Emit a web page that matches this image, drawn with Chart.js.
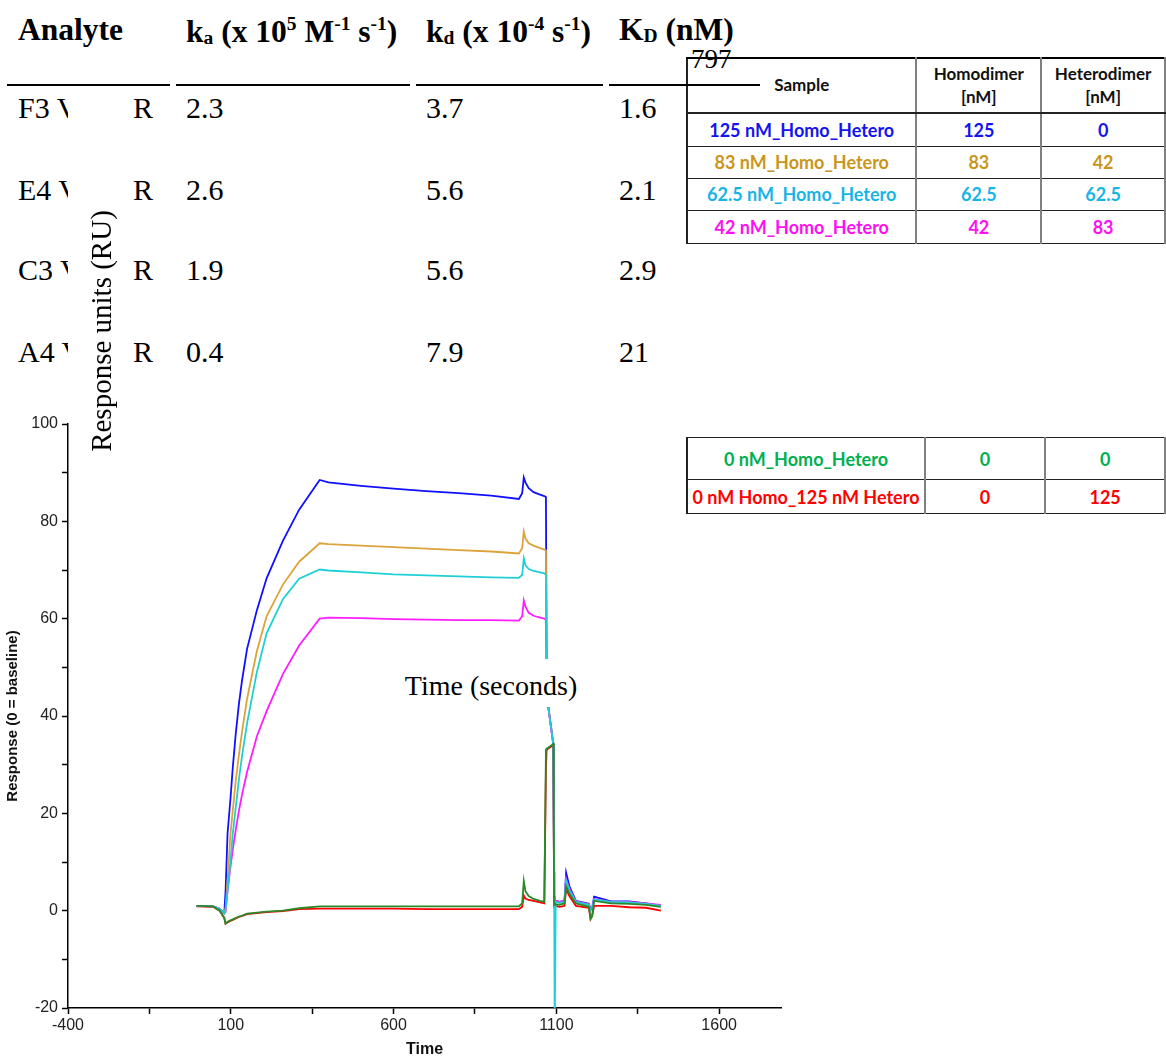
<!DOCTYPE html>
<html>
<head>
<meta charset="utf-8">
<title>SPR sensorgram</title>
<script src="https://cdn.jsdelivr.net/npm/chart.js@4.4.1/dist/chart.umd.min.js"></script>
<style>
  body { margin: 0; background: #fff; }
  #page { position: relative; width: 1166px; height: 1059px; overflow: hidden; background: #fff; }
  #plot { position: absolute; left: 0; top: 400px; z-index: 0; }
  .serif { position: absolute; font-family: "Liberation Serif", "Times New Roman", serif; line-height: 1; white-space: nowrap; color: #000; z-index: 2; }
  .head { font-weight: bold; font-size: 31.5px; }
  .cell { font-size: 30px; }
  .lo { font-size: 0.62em; vertical-align: -0.1em; }
  .hi { font-size: 0.62em; vertical-align: 0.62em; }
  .rule { position: absolute; height: 2px; background: #000; top: 84px; z-index: 5; }
  .mask { position: absolute; background: #fff; z-index: 1; }
  .clip { display: inline-block; overflow: hidden; vertical-align: top; }
  table.conc { position: absolute; border-collapse: collapse; table-layout: fixed; background: #fff; z-index: 4;
    font-family: Lato, "Liberation Sans", sans-serif; font-weight: bold; font-size: 18px; }
  table.conc td { border-left: 2px solid #808080; border-right: 2px solid #808080; border-top: 1.5px solid #222;
    border-bottom: 1.5px solid #222; text-align: center; padding: 0; white-space: nowrap; overflow: hidden; }
  table.conc td:first-child { border-left: 2px solid #222; }
  table.conc tr.hdr td { border-top: 2px solid #000; border-bottom: 2px solid #222; color: #111; font-size: 17px; line-height: 1.3; }
</style>
</head>
<body>
<div id="page">
  <canvas id="plot" width="800" height="659"></canvas>
</div>
<script>
// sensorgram: time (s) and response (RU) for each sample
const timeSec = [-5, 45, 66, 80, 84, 90, 99, 106, 115, 125, 135, 150, 180, 210, 260, 310, 373, 400, 500, 600,
  700, 800, 900, 985, 995, 1000, 1005, 1015, 1030, 1050, 1063, 1068, 1070, 1075, 1091, 1092, 1093, 1095, 1098, 1110,
  1125, 1130, 1140, 1160, 1200, 1205, 1210, 1216, 1268, 1324, 1375, 1421];

const blueRU = [1.0, 0.9, 0.4, -0.5, 4, 15.8, 23, 29.3, 36.2, 42.5, 47.5, 53.8, 61.7, 68.3, 76, 82.4, 88.5, 88, 87.3, 86.7,
  86.2, 85.8, 85.3, 84.6, 85.8, 89, 88, 86.8, 86, 85.5, 85.2, 85, 52, 42, 34, 20, 3, 2, 2, 1.8,
  2, 7.8, 5, 2, 1.4, 0.3, 0.5, 2.9, 1.9, 1.9, 1.5, 1.0];
const goldRU = [1.0, 0.9, 0.4, -0.5, 0.5, 6, 15.8, 20.5, 26.5, 32, 37, 43.5, 53.3, 60.5, 67, 71.7, 75.5, 75.3, 75, 74.7,
  74.4, 74.1, 73.8, 73.4, 74.5, 77.9, 76.5, 75.5, 75, 74.5, 74.2, 74, 52, 42, 34, 20, 3, 1.8, 1.8, 1.6,
  1.8, 6, 4, 1.8, 1.2, 0, 0.2, 2.2, 1.7, 1.6, 1.4, 1.0];
const cyanRU = [1.0, 0.9, 0.4, -0.5, 0.2, 4, 10, 15.8, 21, 27, 32, 38.5, 49, 57, 64, 68.2, 70.1, 69.9, 69.5, 69.1,
  68.9, 68.7, 68.5, 68.4, 69, 72.4, 71, 70.2, 69.8, 69.5, 69.3, 69, 52, 42, 34, 20, 8, -25, 1.8, 1.6,
  1.8, 6.2, 4.2, 1.8, 1.2, 0, 0.2, 2.3, 1.8, 1.7, 1.4, 1.0];
const magentaRU = [1.0, 0.9, 0.4, -0.5, -0.3, 4, 9, 12.5, 16.5, 20.5, 24, 28.5, 35.8, 41, 48.6, 54.5, 60, 60.2, 60.1, 59.9,
  59.8, 59.7, 59.7, 59.6, 60.5, 63.7, 62.5, 61.2, 60.6, 60.2, 60, 59.8, 52, 42, 34, 20, 3, 2, 2, 1.8,
  2, 6.5, 4.5, 1.9, 1.3, 0.2, 0.3, 2.4, 1.8, 1.8, 1.5, 1.2];
const greenRU = [1.0, 0.9, 0.0, -1.5, -2.7, -2.3, -2.0, -1.8, -1.5, -1.2, -1.0, -0.6, -0.4, -0.2, 0.0, 0.5, 0.9, 0.9, 0.9, 0.9,
  0.9, 0.9, 0.9, 0.9, 1.5, 6.1, 4, 3, 2.4, 2.0, 1.8, 33, 33.3, 33.5, 34.3, 20, 1.2, 1.5, 1.3, 1.2,
  1.5, 5, 3.5, 1.5, 0.8, -1.7, -1.2, 2, 1.5, 1.4, 1.2, 0.8];
const redRU = [0.9, 0.8, 0.0, -1.5, -2.7, -2.4, -2.1, -1.9, -1.6, -1.3, -1.1, -0.7, -0.5, -0.3, -0.1, 0.3, 0.4, 0.4, 0.4, 0.4,
  0.3, 0.3, 0.3, 0.3, 0.8, 3.1, 2.5, 2.2, 2.0, 1.7, 1.5, 29, 33, 33.3, 34, 17, 0.8, 1, 1, 0.8,
  1, 4.5, 3, 1, 0.6, -1.7, -1, 1, 1, 0.7, 0.6, 0];

const xTickValues = [-400, -150, 100, 350, 600, 850, 1100, 1350, 1600];
const xLabelValues = [-400, 100, 600, 1100, 1600];
const yTickValues = [-20, -10, 0, 10, 20, 30, 40, 50, 60, 70, 80, 90, 100];
const yLabelValues = [-20, 0, 20, 40, 60, 80, 100];

// kinetics table pasted over the top of the figure
const analytes = ["F3 V", "E4 V", "C3 V", "A4 V"];
const kaValues = ["2.3", "2.6", "1.9", "0.4"];
const kdValues = ["3.7", "5.6", "5.6", "7.9"];
const kDnM = ["1.6", "2.1", "2.9", "21"];

// sample legend tables
const sampleNames = ["125 nM_Homo_Hetero", "83 nM_Homo_Hetero", "62.5 nM_Homo_Hetero", "42 nM_Homo_Hetero"];
const homoConc = ["125", "83", "62.5", "42"];
const heteroConc = ["0", "42", "62.5", "83"];
const controlNames = ["0 nM_Homo_Hetero", "0 nM Homo_125 nM Hetero"];
const controlHomo = ["0", "0"];
const controlHetero = ["0", "125"];

const sampleColors = ["#1414f0", "#c9961c", "#19b4e6", "#ff10f0"];
const controlColors = ["#00b050", "#ff0000"];

const page = document.getElementById("page");

function addEl(tag, cls, style, html) {
    const el = document.createElement(tag);
    if (cls) el.className = cls;
    Object.assign(el.style, style);
    if (html !== undefined) el.innerHTML = html;
    page.appendChild(el);
    return el;
}

// ---- kinetics table text ----
addEl("div", "serif head", { left: "18px", top: "14px" }, "Analyte");
addEl("div", "serif head", { left: "186px", top: "14px" },
    'k<span class="lo">a</span> (x 10<span class="hi">5</span> M<span class="hi">-1</span> s<span class="hi">-1</span>)');
addEl("div", "serif head", { left: "426px", top: "14px" },
    'k<span class="lo">d</span> (x 10<span class="hi">-4</span> s<span class="hi">-1</span>)');
addEl("div", "serif head", { left: "619px", top: "14px" }, 'K<span class="lo">D</span> (nM)');
addEl("div", "serif cell", { left: "691px", top: "46px", fontSize: "27px", zIndex: 6 }, "797");

[[7, 170], [176, 410], [416, 603], [609, 760]].forEach(([a, b]) => {
    addEl("div", "rule", { left: a + "px", width: (b - a) + "px" });
});

const rowCentres = [108, 190, 270, 352];
analytes.forEach((name, i) => {
    const top = (rowCentres[i] - 15) + "px";
    addEl("div", "serif cell", { left: "18px", top }, `<span class="clip" style="width:50px">${name}</span>`);
    addEl("div", "serif cell", { left: "133px", top }, "R");
    addEl("div", "serif cell", { left: "186px", top }, kaValues[i]);
    addEl("div", "serif cell", { left: "426px", top }, kdValues[i]);
    addEl("div", "serif cell", { left: "619px", top }, kDnM[i]);
});

// rotated old axis label + masks
addEl("div", "mask", { left: "68px", top: "92px", width: "60px", height: "280px" });
addEl("div", "serif", {
    left: "-24px", top: "315px", width: "250px", height: "32px", lineHeight: "32px", fontSize: "29px",
    textAlign: "center", transform: "rotate(-90deg)", background: "#fff", zIndex: 3
}, "Response units (RU)");
addEl("div", "serif", {
    left: "400px", top: "659px", width: "182px", height: "48px", lineHeight: "54px", fontSize: "28px",
    textAlign: "center", background: "#fff", zIndex: 3, overflow: "hidden"
}, "Time (seconds)");

// ---- concentration tables ----
function concTable(left, top, rowHeights, names, homo, hetero, colors, header) {
    const t = document.createElement("table");
    t.className = "conc";
    t.style.left = left + "px";
    t.style.top = top + "px";
    t.innerHTML = '<colgroup><col style="width:239px"><col style="width:133px"><col style="width:130px"></colgroup>';
    let r = 0;
    if (header) {
        const tr = t.insertRow();
        tr.className = "hdr";
        tr.style.height = rowHeights[r++] + "px";
        ["Sample", "Homodimer<br>[nM]", "Heterodimer<br>[nM]"].forEach((h) => { tr.insertCell().innerHTML = h; });
    }
    names.forEach((n, i) => {
        const tr = t.insertRow();
        tr.style.height = rowHeights[r++] + "px";
        tr.style.color = colors[i];
        [n, homo[i], hetero[i]].forEach((v) => { tr.insertCell().textContent = v; });
    });
    page.appendChild(t);
}
concTable(686, 57, [55, 33, 32, 32, 33], sampleNames, homoConc, heteroConc, sampleColors, true);
concTable(686, 437, [42, 34], controlNames, controlHomo, controlHetero, controlColors, false);

// ---- chart ----
function series(label, values, color) {
    return {
        label,
        data: timeSec.map((t, i) => ({ x: t, y: values[i] })),
        borderColor: color,
        borderWidth: 1.8,
        pointRadius: 0,
        tension: 0,
        fill: false,
    };
}

const axisFont = { family: "'Liberation Sans', Arial, sans-serif", size: 16 };

new Chart(document.getElementById("plot"), {
    type: "line",
    data: {
        datasets: [
            series("0 nM_Homo_Hetero", greenRU, "#2a8a2a"),
            series("62.5 nM_Homo_Hetero", cyanRU, "#1ed0d6"),
            series("42 nM_Homo_Hetero", magentaRU, "#ff1cff"),
            series("0 nM Homo_125 nM Hetero", redRU, "#ff0000"),
            series("83 nM_Homo_Hetero", goldRU, "#dca33a"),
            series("125 nM_Homo_Hetero", blueRU, "#1010ff"),
        ],
    },
    options: {
        responsive: false,
        animation: false,
        layout: { padding: { top: 24, right: 19, left: 0, bottom: 0 } },
        plugins: { legend: { display: false }, tooltip: { enabled: false } },
        scales: {
            x: {
                type: "linear",
                min: -400,
                max: 1790,
                afterBuildTicks: (scale) => { scale.ticks = xTickValues.map((v) => ({ value: v })); },
                afterFit: (scale) => { scale.height = 51; },
                border: { color: "#000", width: 1.5 },
                grid: { drawOnChartArea: false, tickLength: 6, tickColor: "#000", tickWidth: 1.5 },
                ticks: {
                    autoSkip: false, maxRotation: 0, padding: 2, color: "#222", font: axisFont,
                    callback: (v) => (xLabelValues.includes(v) ? String(v) : ""),
                },
                title: { display: true, text: "Time", color: "#111", padding: { top: 0, bottom: 0 },
                    font: { family: axisFont.family, size: 16, weight: "bold" } },
            },
            y: {
                min: -20,
                max: 100,
                afterBuildTicks: (scale) => { scale.ticks = yTickValues.map((v) => ({ value: v })); },
                afterFit: (scale) => { scale.width = 68; },
                border: { color: "#000", width: 1.5 },
                grid: { drawOnChartArea: false, tickLength: 6, tickColor: "#000", tickWidth: 1.5 },
                ticks: {
                    autoSkip: false, padding: 4, color: "#222", font: axisFont,
                    callback: (v) => (yLabelValues.includes(v) ? String(v) : ""),
                },
                title: { display: true, text: "Response (0 = baseline)", color: "#111", padding: { top: 4, bottom: 0 },
                    font: { family: axisFont.family, size: 15, weight: "bold" } },
            },
        },
    },
});
</script>
</body>
</html>
